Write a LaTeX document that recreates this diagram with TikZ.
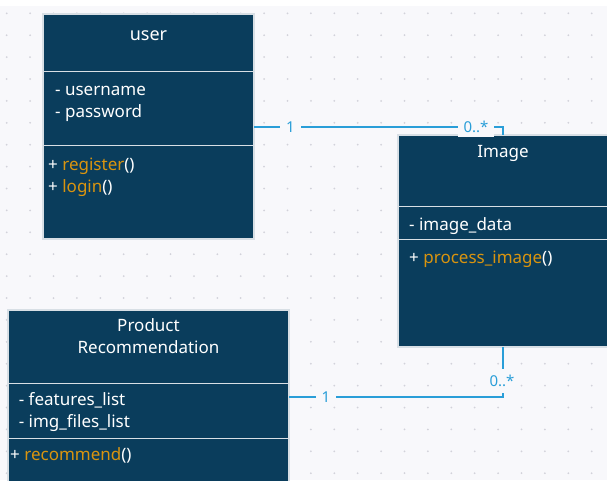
\documentclass[tikz,border=0pt]{standalone}
\usepackage{fontspec}
\setmainfont{Noto Sans}
\definecolor{navy}{HTML}{0A3D5C}
\definecolor{sepline}{HTML}{D8DFE5}
\definecolor{meth}{HTML}{D9940F}
\definecolor{link}{HTML}{2A9ED8}
\definecolor{bg}{HTML}{F8F8FB}
\definecolor{dotc}{HTML}{D2D2DA}
\tikzset{
  comp/.style={fill=navy, draw=sepline, line width=1.2pt},
  boxnode/.style={draw=none, anchor=north west, inner sep=0pt},
  txt/.style={anchor=base west, inner sep=0pt, text=white, font=\fontsize{17}{22}\selectfont},
  ttl/.style={anchor=base, inner sep=0pt, text=white, font=\fontsize{17}{22}\selectfont},
  assoc/.style={draw=link, line width=2pt},
  mult/.style={fill=bg, text=link, inner xsep=6pt, inner ysep=4pt, font=\fontsize{15}{17}\selectfont},
}
\newcommand{\mth}[1]{\textcolor{meth}{#1}}
\begin{document}
\begin{tikzpicture}[x=1pt,y=-1pt]
\useasboundingbox (0,0) rectangle (607,480);
\clip (0,0) rectangle (607,480);
\fill[white] (0,0) rectangle (607,6);
\fill[bg] (0,6) rectangle (607,480);
\foreach \i in {0,...,25} {
  \foreach \j in {0,...,21} {
    \fill[dotc] (6.7+23.4*\i, 13.3+21.9*\j) circle (1);
  }
}
% ---------- user ----------
\node[boxnode, minimum width=211pt, minimum height=225pt] (user) at (43,14) {};
\draw[comp] (43,14) rectangle (254,71.7);
\draw[comp] (43,71.7) rectangle (254,145.7);
\draw[comp] (43,145.7) rectangle (254,239);
\node[ttl, font=\fontsize{18}{22}\selectfont] (userT) at (148.5,40) {user};
\node[txt] (userA1) at (55,95) {- username};
\node[txt] (userA2) at (55,117) {- password};
\node[txt] (userM1) at (48,170) {+ \mth{register}()};
\node[txt] (userM2) at (48,192) {+ \mth{login}()};
% ---------- Image ----------
\node[boxnode, minimum width=210pt, minimum height=212pt] (image) at (398,135) {};
\draw[comp] (398,135) rectangle (610,206.7);
\draw[comp] (398,206.7) rectangle (610,239.3);
\draw[comp] (398,239.3) rectangle (610,347);
\node[ttl] (imageT) at (503,157.3) {Image};
\node[txt] (imageA1) at (409,230) {- image\_data};
\node[txt] (imageM1) at (409,263.3) {+ \mth{process\_image}()};
% ---------- Product Recommendation ----------
\node[boxnode, minimum width=281pt, minimum height=175pt] (prod) at (8,310) {};
\draw[comp] (8,310) rectangle (289,383.3);
\draw[comp] (8,383.3) rectangle (289,438.3);
\draw[comp] (8,438.3) rectangle (289,490);
\node[ttl] (prodT1) at (148.5,331.7) {Product};
\node[ttl] (prodT2) at (148.5,353.3) {Recommendation};
\node[txt] (prodA1) at (18.6,405) {- features\_list};
\node[txt] (prodA2) at (18.6,427.3) {- img\_files\_list};
\node[txt] (prodM1) at (10,460.7) {+ \mth{recommend}()};
% ---------- connectors ----------
\coordinate (c1y) at (0,127);
\coordinate (c2y) at (0,397);
\draw[assoc] (user.east |- c1y) -| (image.north);
\draw[assoc] (image.south) |- (prod.east |- c2y);
\node[mult] (m1) at (290.5,127) {1};
\node[mult] (m2) at (476,127) {0..*};
\node[mult, inner ysep=6pt] (m3) at (502,381) {0..*};
\node[mult] (m4) at (326,397) {1};
\end{tikzpicture}
\end{document}
